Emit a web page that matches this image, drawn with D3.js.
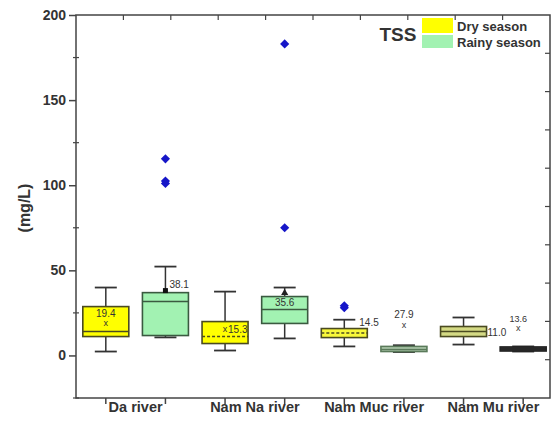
<!DOCTYPE html>
<meta charset="utf-8">
<html>
<head>
<script src="https://d3js.org/d3.v7.min.js"></script>
<style>
  body { margin: 0; background: #fff; }
  text { font-family: "Liberation Sans", Arial, sans-serif; }
</style>
</head>
<body>
<svg width="558" height="426"></svg>
<script>

var categories = ["Da river", "Nam Na river", "Nam Muc river", "Nam Mu river"];
var seasons = ["Dry season", "Rainy season"];

// one entry per box, order: dry, rainy for each river
var lowWhisker  = [2.3, 10.6, 2.9, 10.0, 5.3, 2.0, 6.4, 2.3];
var q1          = [11.1, 11.7, 7.0, 18.8, 10.5, 2.3, 11.1, 2.6];
var median      = [14.1, 31.7, 11.1, 27.0, 13.2, 3.5, 14.0, 3.8];
var q3          = [28.7, 36.9, 19.9, 34.6, 15.8, 5.3, 17.0, 5.0];
var highWhisker = [39.9, 52.2, 37.5, 39.9, 21.0, 6.0, 22.3, 5.3];
var means       = [19.4, 38.1, 15.3, 35.6, 14.5, 27.9, 11.0, 13.6];
var outliers    = [[], [115.5, 102.5, 101], [], [183, 75], [28.0, 29.2], [], [], []];

var yTicks = [0, 50, 100, 150, 200];

var svg = d3.select("svg"),
    margin = {top: 15, right: 8, bottom: 28, left: 76},
    width = +svg.attr("width"),
    height = +svg.attr("height");

var x = d3.scaleLinear().domain([0.5, 8.45]).range([margin.left, width - margin.right]);
var y = d3.scaleLinear().domain([-25, 200]).range([height - margin.bottom, margin.top]);

var fills   = ["#ffff00", "#a2f2b2", "#ffff00", "#a2f2b2", "#f8f83a", "#b2cdb0", "#d4da84", "#3a3a3a"];
var strokes = ["#4a4a20", "#3a5a40", "#4a4a20", "#3a5a40", "#4a4a20", "#5a7a5a", "#4a4a20", "#222"];
var boxW = 46, capW = 22;

var boxes = d3.range(8).map(function(i) {
  return {i: i, lo: lowWhisker[i], q1: q1[i], med: median[i], q3: q3[i], hi: highWhisker[i], mean: means[i], out: outliers[i]};
});

var axisColor = "#444";
var x0 = x.range()[0], x1 = x.range()[1], y0 = y.range()[0], y1 = y.range()[1];

// frame
svg.append("rect")
  .attr("x", x0).attr("y", y1).attr("width", x1 - x0).attr("height", y0 - y1)
  .attr("fill", "none").attr("stroke", axisColor).attr("stroke-width", 1.5);

// left axis
var left = svg.append("g").attr("transform", "translate(" + x0 + ",0)")
  .call(d3.axisLeft(y).tickValues(yTicks).tickSize(7).tickPadding(3));
left.select(".domain").remove();
left.selectAll("line").attr("stroke", axisColor).attr("stroke-width", 1.5);
left.selectAll("text").attr("font-size", 14).attr("font-weight", "bold").attr("fill", "#333");

// left minor ticks
svg.append("g").selectAll("line").data([-25, 25, 75, 125, 175]).enter().append("line")
  .attr("x1", x0 - 3).attr("x2", x0 + 3)
  .attr("y1", function(d) { return y(d); }).attr("y2", function(d) { return y(d); })
  .attr("stroke", axisColor).attr("stroke-width", 1.2);

// bottom ticks
svg.append("g").selectAll("line").data(d3.range(1, 9)).enter().append("line")
  .attr("x1", function(d) { return x(d); }).attr("x2", function(d) { return x(d); })
  .attr("y1", y0).attr("y2", y0 + 6)
  .attr("stroke", axisColor).attr("stroke-width", 1.5);

// top ticks (inward)
var xt = d3.scaleLinear().domain([0, 10]).range([x0, x1]);
svg.append("g").selectAll("line").data(d3.range(1, 10)).enter().append("line")
  .attr("x1", function(d) { return xt(d); }).attr("x2", function(d) { return xt(d); })
  .attr("y1", y1).attr("y2", y1 + 5)
  .attr("stroke", axisColor).attr("stroke-width", 1.2);

// right ticks (inward)
var yr = d3.scaleLinear().domain([0, 10]).range([y1, y0]);
svg.append("g").selectAll("line").data(d3.range(1, 10)).enter().append("line")
  .attr("x1", x1 - 5).attr("x2", x1)
  .attr("y1", function(d) { return yr(d); }).attr("y2", function(d) { return yr(d); })
  .attr("stroke", axisColor).attr("stroke-width", 1.2);

// category labels
svg.append("g").selectAll("text").data(categories).enter().append("text")
  .attr("x", function(d, i) { return x(2 * i + 1.5); })
  .attr("y", 412)
  .attr("text-anchor", "middle")
  .attr("font-size", 14.5).attr("font-weight", "bold").attr("fill", "#333")
  .text(function(d) { return d; });

// y label
svg.append("text")
  .attr("transform", "translate(30,208) rotate(-90)")
  .attr("text-anchor", "middle")
  .attr("font-size", 16).attr("font-weight", "bold").attr("fill", "#333")
  .text("(mg/L)");

// boxes
var g = svg.append("g").selectAll("g").data(boxes).enter().append("g");

g.append("line")
  .attr("x1", function(d) { return x(d.i + 1); }).attr("x2", function(d) { return x(d.i + 1); })
  .attr("y1", function(d) { return y(d.hi); }).attr("y2", function(d) { return y(d.lo); })
  .attr("stroke", "#333").attr("stroke-width", 1.5);

g.selectAll(".cap").data(function(d) { return [d, d]; }).enter().append("line")
  .attr("x1", function(d) { return x(d.i + 1) - capW / 2; })
  .attr("x2", function(d) { return x(d.i + 1) + capW / 2; })
  .attr("y1", function(d, j) { return y(j ? d.lo : d.hi); })
  .attr("y2", function(d, j) { return y(j ? d.lo : d.hi); })
  .attr("stroke", "#333").attr("stroke-width", 1.8);

g.append("rect")
  .attr("x", function(d) { return x(d.i + 1) - boxW / 2; })
  .attr("y", function(d) { return y(d.q3); })
  .attr("width", boxW)
  .attr("height", function(d) { return Math.max(2, y(d.q1) - y(d.q3)); })
  .attr("fill", function(d) { return fills[d.i]; })
  .attr("stroke", function(d) { return strokes[d.i]; })
  .attr("stroke-width", 1.6);

g.append("line")
  .attr("x1", function(d) { return x(d.i + 1) - boxW / 2; })
  .attr("x2", function(d) { return x(d.i + 1) + boxW / 2; })
  .attr("y1", function(d) { return y(d.med); }).attr("y2", function(d) { return y(d.med); })
  .attr("stroke", function(d) { return strokes[d.i]; })
  .attr("stroke-width", 1.5)
  .attr("stroke-dasharray", function(d) { return (d.i === 2 || d.i === 4) ? "3,2" : null; });

// outliers (diamonds)
var diamond = d3.symbol().type(d3.symbolSquare).size(42);
g.selectAll("path").data(function(d) { return d.out.map(function(v) { return {i: d.i, v: v}; }); })
  .enter().append("path")
  .attr("d", diamond)
  .attr("transform", function(d) { return "translate(" + x(d.i + 1) + "," + y(d.v) + ") rotate(45)"; })
  .attr("fill", "#1616c8");

// mean markers and labels: marker offset (mdx, mdy), label offset from marker (lx, ly)
var meanStyle = [
  {mark: "x",   mdx: 0,  mdy: 1,  lx: 0,  ly: -6,  anchor: "middle", fs: 10},
  {mark: "sq",  mdx: 0,  mdy: 0,  lx: 4,  ly: -3,  anchor: "start",  fs: 10},
  {mark: "x",   mdx: 0,  mdy: 0,  lx: 3,  ly: 4,   anchor: "start",  fs: 10},
  {mark: "tri", mdx: 0,  mdy: -2, lx: 0,  ly: 13,  anchor: "middle", fs: 10},
  {mark: "",    mdx: 0,  mdy: 0,  lx: 15, ly: -5,  anchor: "start",  fs: 10},
  {mark: "x",   mdx: 0,  mdy: 17, lx: 0,  ly: -7,  anchor: "middle", fs: 10},
  {mark: "",    mdx: 0,  mdy: 0,  lx: 24, ly: -1,  anchor: "start",  fs: 10},
  {mark: "x",   mdx: -5, mdy: -4, lx: 0,  ly: -6,  anchor: "middle", fs: 9}
];

g.each(function(d) {
  var s = meanStyle[d.i], el = d3.select(this);
  var mx = x(d.i + 1) + s.mdx, my = y(d.mean) + s.mdy;
  if (s.mark === "x") {
    el.append("text").attr("x", mx).attr("y", my + 3).attr("text-anchor", "middle")
      .attr("font-size", 9).attr("fill", "#333").text("x");
  } else if (s.mark === "sq") {
    el.append("rect").attr("x", mx - 2.5).attr("y", my - 2.5).attr("width", 5).attr("height", 5).attr("fill", "#111");
  } else if (s.mark === "tri") {
    el.append("path").attr("d", d3.symbol().type(d3.symbolTriangle).size(22))
      .attr("transform", "translate(" + mx + "," + my + ")").attr("fill", "#222");
  }
  el.append("text").attr("x", mx + s.lx).attr("y", my + s.ly).attr("text-anchor", s.anchor)
    .attr("font-size", s.fs).attr("fill", "#333")
    .text(d3.format(".1f")(d.mean));
});

// legend
svg.append("text").attr("x", 398).attr("y", 41).attr("text-anchor", "middle")
  .attr("font-size", 19).attr("font-weight", "bold").attr("fill", "#333").text("TSS");

var leg = svg.append("g").selectAll("g").data(seasons).enter().append("g");
leg.append("rect")
  .attr("x", 422).attr("y", function(d, i) { return 18 + i * 17; })
  .attr("width", 31).attr("height", function(d, i) { return i ? 13 : 15; })
  .attr("fill", function(d, i) { return fills[i]; });
leg.append("text")
  .attr("x", 457).attr("y", function(d, i) { return 31 + i * 16; })
  .attr("font-size", 13).attr("font-weight", "bold").attr("fill", "#333")
  .text(function(d) { return d; });

</script>
</body>
</html>
